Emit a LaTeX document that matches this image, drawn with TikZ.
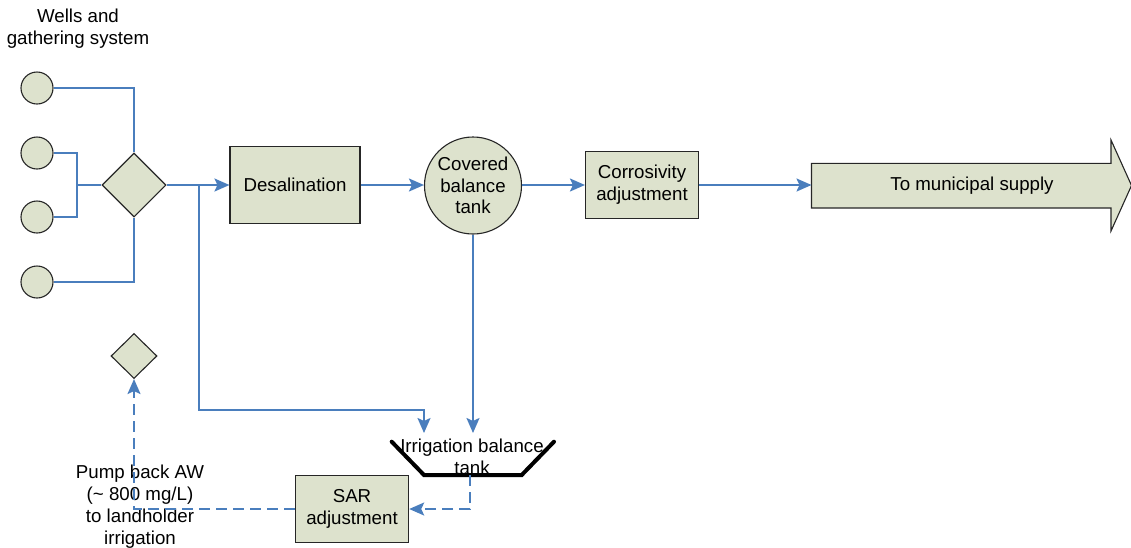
\documentclass[tikz,border=0pt]{standalone}
\usepackage{fontspec}
\setmainfont{Liberation Sans}
\usetikzlibrary{shapes.geometric,arrows.meta}
\definecolor{boxfill}{RGB}{221,226,205}
\definecolor{flow}{RGB}{74,126,189}
\tikzset{
  wellc/.style={circle,draw=black!85,fill=boxfill,line width=1.1pt,minimum size=32pt,inner sep=0pt},
  valve/.style={diamond,draw=black!85,fill=boxfill,line width=1.1pt,inner sep=0pt},
  procbox/.style={rectangle,draw=black!85,fill=boxfill,line width=1.1pt,align=center,inner sep=0pt},
  pipe/.style={draw=flow,line width=2pt},
  arr/.style={pipe,-{Stealth[length=15pt,width=13pt,inset=3pt]}},
  backflow/.style={arr,dash pattern=on 11pt off 6pt},
}
\begin{document}
\begin{tikzpicture}[x=1pt,y=-1pt,font=\fontsize{18.7}{21.8}\selectfont]
\useasboundingbox (0,0) rectangle (1131,547);
% title
\node[align=center] (title) at (78,29) {Wells and\\gathering system};
% wells
\node[wellc] (w1) at (37,88) {};
\node[wellc] (w2) at (37,153) {};
\node[wellc] (w3) at (37,217) {};
\node[wellc] (w4) at (37,282) {};
% main manifold
\node[valve,minimum width=64pt,minimum height=64pt] (dia) at (134,185) {};
\node[procbox,minimum width=130pt,minimum height=77.6pt] (desal) at (295,185) {Desalination};
\node[circle,draw=black!85,fill=boxfill,line width=1.1pt,minimum size=97pt,inner sep=0pt,align=center] (cov) at (473,185.5) {Covered\\balance\\tank};
\node[procbox,minimum width=113pt,minimum height=67.6pt] (corr) at (642,185) {Corrosivity\\adjustment};
% big output arrow
\filldraw[fill=boxfill,draw=black!85,line width=1.1pt]
  (811.5,163.3) -- (1111,163.3) -- (1111,140) -- (1131.5,185.5) -- (1111,231) -- (1111,208) -- (811.5,208) -- cycle;
\node (muni) at (972,186) {To municipal supply};
\coordinate (muniW) at (811.5,185);
% irrigation tank
\draw[line width=4pt,line cap=round,line join=miter] (391.7,441.7) -- (424,475) -- (521.7,475) -- (554,441.7);
\node[align=center] (irr) at (472,457) {Irrigation balance\\tank};
\coordinate (irrA) at (424,433);
\coordinate (irrB) at (473,433);
\coordinate (tankbot) at (470,475);
% SAR and pump back
\node[procbox,minimum width=113.3pt,minimum height=67.7pt] (sar) at (352,509) {SAR\\adjustment};
\node[valve,minimum width=46pt,minimum height=45pt] (pd) at (134,356) {};
\node[align=center] (pump) at (140,506.5) {Pump back AW\\(\textasciitilde{} 800 mg/L)\\to landholder\\irrigation};
% connectors from wells
\draw[pipe] (w1.east) -| (dia.north);
\draw[pipe] (w4.east) -| (dia.south);
\coordinate (jn) at (77,185);
\draw[pipe] (w2.east) -| (jn) |- (w3.east);
\draw[pipe] (jn) -- (dia.west);
% main line
\draw[arr] (dia.east) -- (desal.west);
\coordinate (br) at (199,185);
\coordinate (loop) at (199,410);
\draw[arr] (br) -- (loop) -| (irrA);
\draw[arr] (desal.east) -- (desal.east -| cov.west);
\draw[arr] (cov.east |- corr.west) -- (corr.west);
\draw[arr] (corr.east) -- (muniW);
\draw[arr] (cov.south) -- (irrB);
% return flows
\draw[backflow] (tankbot) |- (sar.east);
\draw[backflow] (sar.west) -| (pd.south);
\end{tikzpicture}
\end{document}
